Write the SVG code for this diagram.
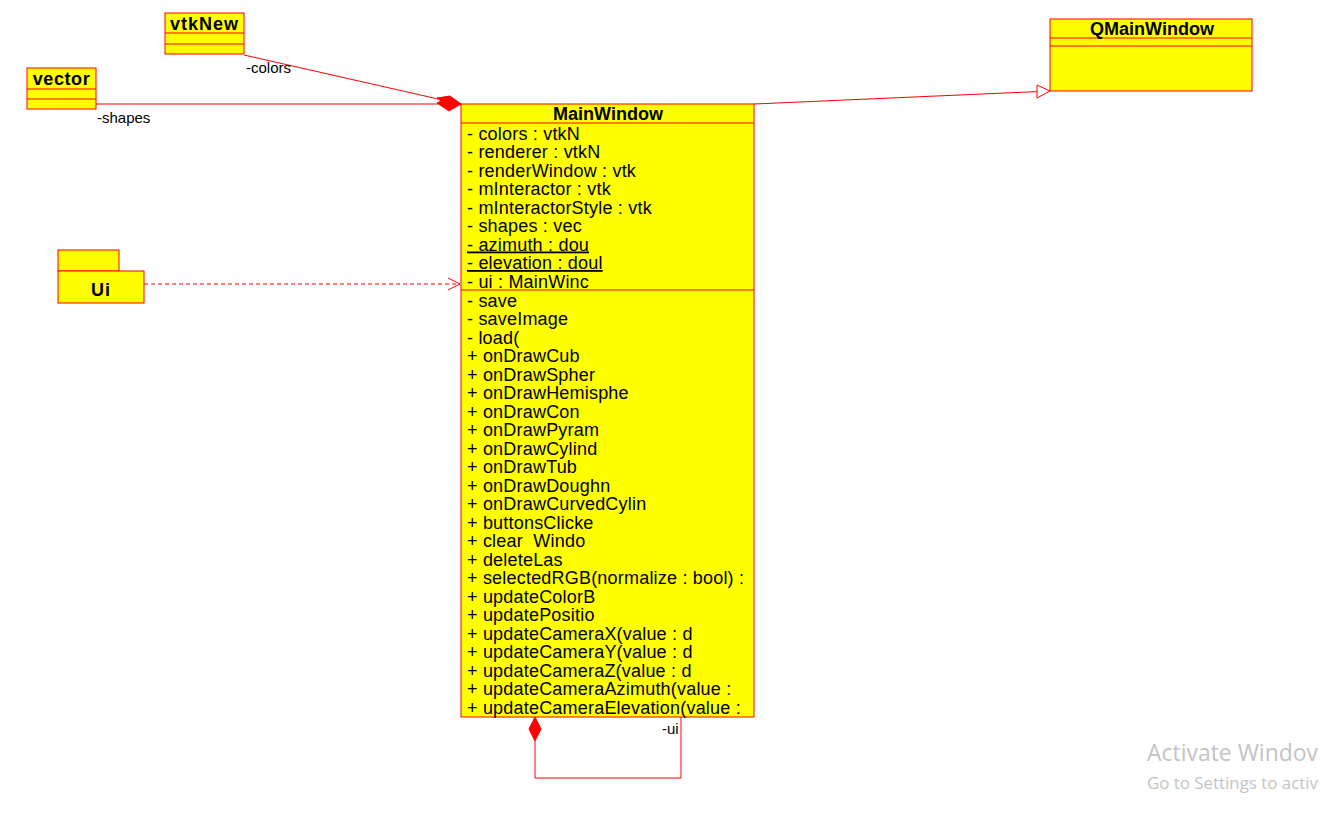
<svg xmlns="http://www.w3.org/2000/svg" width="1321" height="817" viewBox="0 0 1321 817">
<style>
.box{fill:#ffff00;stroke:#ff0000;stroke-width:1}
.ln{stroke:#ff0000;stroke-width:1;fill:none}
.title{font-family:"Liberation Sans",Arial,sans-serif;font-weight:bold;font-size:18px;fill:#000}
.mem{font-family:"Liberation Sans",Arial,sans-serif;font-size:18px;letter-spacing:0.2px;fill:#000}
.lbl{font-family:"Liberation Sans",Arial,sans-serif;font-size:15px;fill:#000}
.u{text-decoration:underline}
.wm{font-family:"Open Sans","Noto Sans",sans-serif;fill:#c4c4c4}
</style>
<defs>
<marker id="open" viewBox="0 0 14 14" refX="13" refY="7" markerWidth="14" markerHeight="14" markerUnits="userSpaceOnUse" orient="auto">
<path d="M1,1 L13,7 L1,13" fill="none" stroke="#ff0000" stroke-width="1"/>
</marker>
</defs>
<g id="connectors">
<line class="ln" x1="96" y1="104" x2="438" y2="104"/>
<line class="ln" x1="244" y1="55" x2="438" y2="99"/>
<path d="M461,104 L449,97 L437,103 L449,111 Z" fill="#ff0000" stroke="#ff0000"/>
<path d="M461,104 L450,96 L437,98 L448,106 Z" fill="#ff0000" stroke="#ff0000"/>
<line class="ln" x1="754" y1="104" x2="1037" y2="91.6"/>
<path d="M1050,91 L1037,85 L1037,98 Z" fill="#ffffff" stroke="#ff0000"/>
<line class="ln" x1="144" y1="284" x2="460" y2="284" stroke-dasharray="4,3" marker-end="url(#open)"/>
<path d="M535,717 L541,729 L535,741 L529,729 Z" fill="#ff0000" stroke="#ff0000"/>
<polyline class="ln" points="535,741 535,778 681,778 681,717"/>
<text class="lbl" x="246" y="73">-colors</text>
<text class="lbl" x="97" y="123">-shapes</text>
<text class="lbl" x="662" y="734">-ui</text>
</g>
<g id="vtkNew">
<rect class="box" x="165" y="13" width="79" height="41"/>
<line class="ln" x1="165" y1="33" x2="244" y2="33"/>
<line class="ln" x1="165" y1="44" x2="244" y2="44"/>
<text class="title" x="204.5" y="29.5" text-anchor="middle" letter-spacing="1">vtkNew</text>
</g>
<g id="vector">
<rect class="box" x="27" y="68" width="69" height="41"/>
<line class="ln" x1="27" y1="89" x2="96" y2="89"/>
<line class="ln" x1="27" y1="99" x2="96" y2="99"/>
<text class="title" x="61.5" y="84.5" text-anchor="middle" letter-spacing="0.6">vector</text>
</g>
<g id="QMainWindow">
<rect class="box" x="1050" y="19" width="202" height="72"/>
<line class="ln" x1="1050" y1="38" x2="1252" y2="38"/>
<line class="ln" x1="1050" y1="46" x2="1252" y2="46"/>
<text class="title" x="1152" y="34.5" text-anchor="middle">QMainWindow</text>
</g>
<g id="Ui">
<rect class="box" x="58" y="250" width="61" height="21"/>
<rect class="box" x="58" y="271" width="86" height="32"/>
<text class="title" x="101" y="296" text-anchor="middle" letter-spacing="1">Ui</text>
</g>
<g id="MainWindow">
<rect class="box" x="461" y="104" width="293" height="613"/>
<line class="ln" x1="461" y1="123" x2="754" y2="123"/>
<line class="ln" x1="461" y1="290" x2="754" y2="290"/>
<text class="title" x="608" y="119.5" text-anchor="middle">MainWindow</text>
<g class="mem">
<text x="467" y="139.5">- colors : vtkN</text>
<text x="467" y="158">- renderer : vtkN</text>
<text x="467" y="176.5">- renderWindow : vtk</text>
<text x="467" y="195">- mInteractor : vtk</text>
<text x="467" y="213.5">- mInteractorStyle : vtk</text>
<text x="467" y="232">- shapes : vec</text>
<text x="467" y="250.5" class="u">- azimuth : dou</text>
<text x="467" y="269" class="u">- elevation : doul</text>
<text x="467" y="287.5">- ui : MainWinc</text>
<text x="467" y="306.5">- save</text>
<text x="467" y="325">- saveImage</text>
<text x="467" y="343.5">- load(</text>
<text x="467" y="362">+ onDrawCub</text>
<text x="467" y="380.5">+ onDrawSpher</text>
<text x="467" y="399">+ onDrawHemisphe</text>
<text x="467" y="417.5">+ onDrawCon</text>
<text x="467" y="436">+ onDrawPyram</text>
<text x="467" y="454.5">+ onDrawCylind</text>
<text x="467" y="473">+ onDrawTub</text>
<text x="467" y="491.5">+ onDrawDoughn</text>
<text x="467" y="510">+ onDrawCurvedCylin</text>
<text x="467" y="528.5">+ buttonsClicke</text>
<text x="467" y="547">+ clear&#160; Windo</text>
<text x="467" y="565.5">+ deleteLas</text>
<text x="467" y="584">+ selectedRGB(normalize : bool) :</text>
<text x="467" y="602.5">+ updateColorB</text>
<text x="467" y="621">+ updatePositio</text>
<text x="467" y="639.5">+ updateCameraX(value : d</text>
<text x="467" y="658">+ updateCameraY(value : d</text>
<text x="467" y="676.5">+ updateCameraZ(value : d</text>
<text x="467" y="695">+ updateCameraAzimuth(value :</text>
<text x="467" y="713.5">+ updateCameraElevation(value :</text>
</g>
</g>
<text class="wm" x="1147" y="761" font-size="23" textLength="171" lengthAdjust="spacingAndGlyphs">Activate Windov</text>
<text class="wm" x="1147" y="789" font-size="16" textLength="171" lengthAdjust="spacingAndGlyphs">Go to Settings to activ</text>
</svg>
